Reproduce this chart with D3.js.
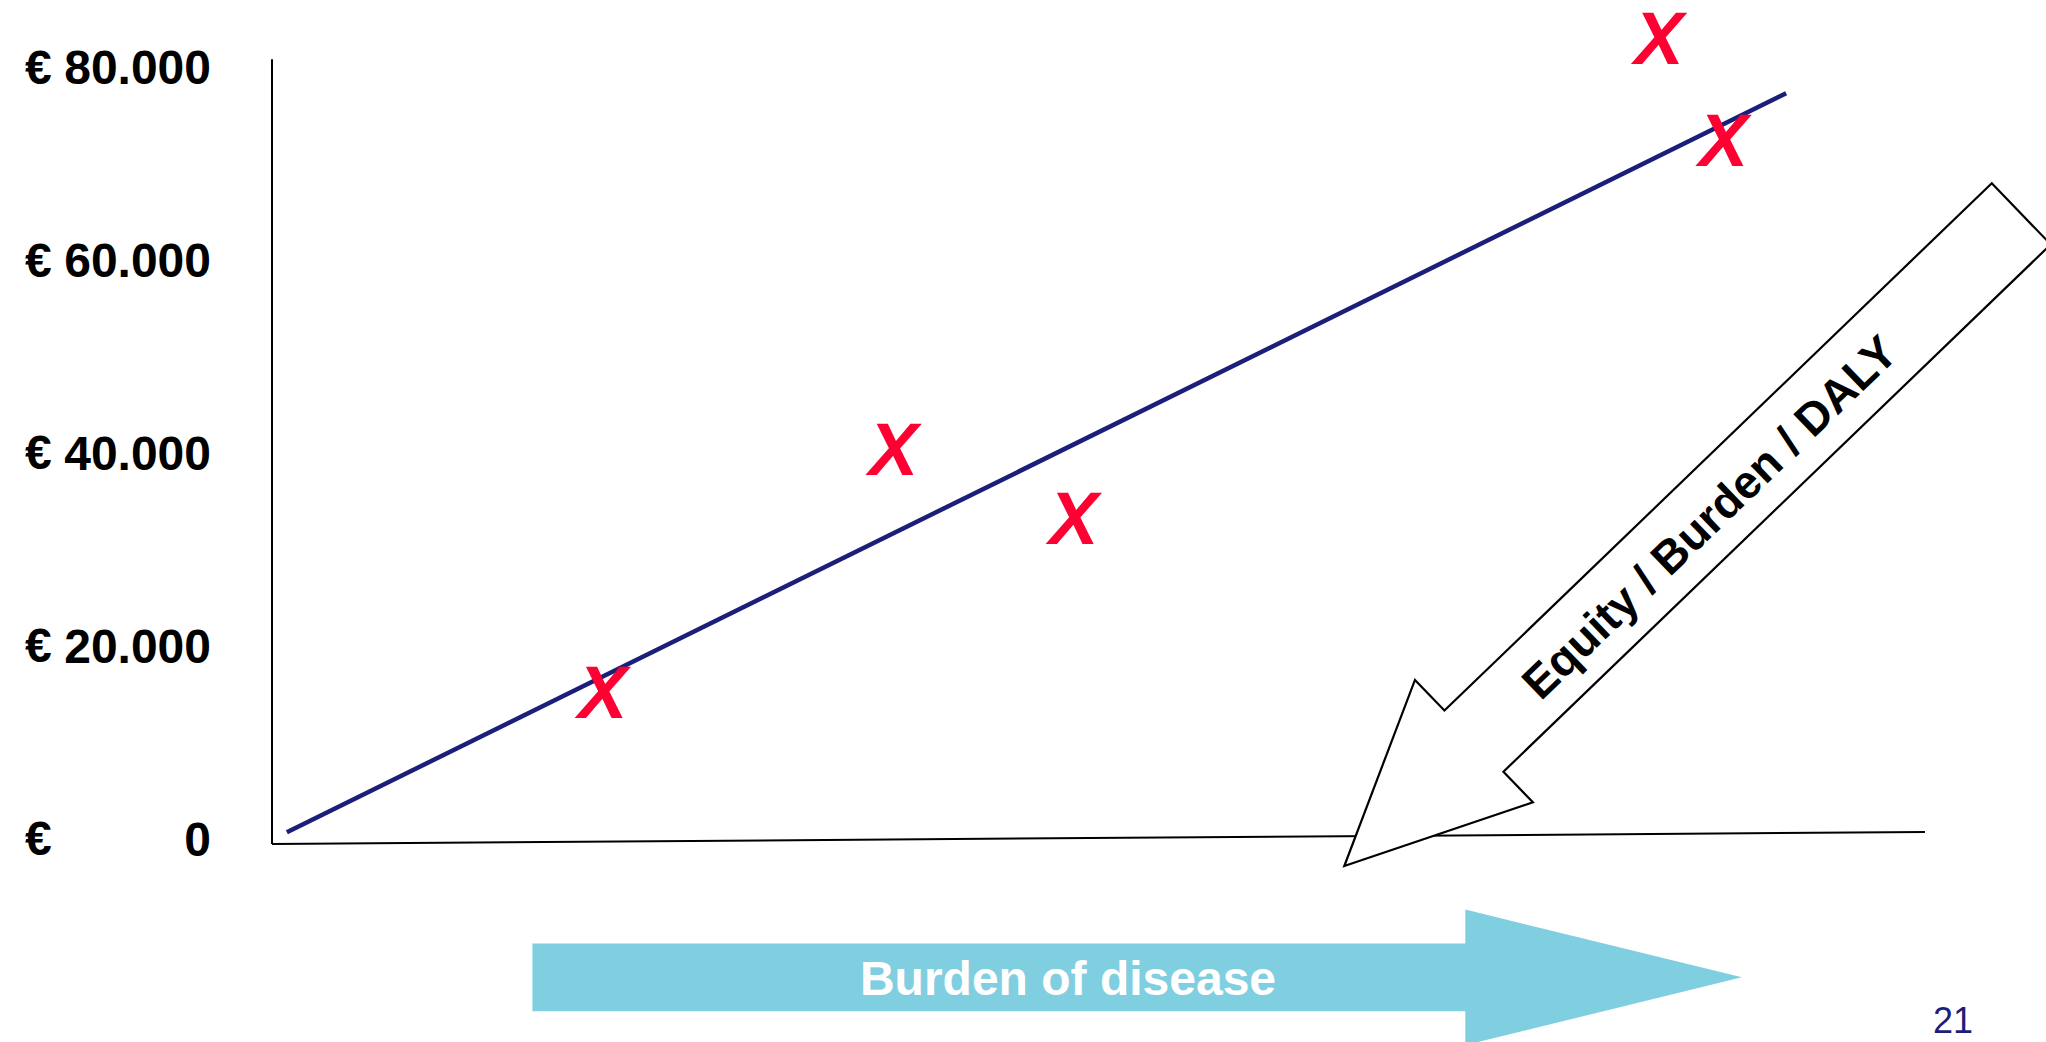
<!DOCTYPE html>
<html>
<head>
<meta charset="utf-8">
<script src="https://cdn.jsdelivr.net/npm/d3@7"></script>
<style>
  html, body { margin: 0; padding: 0; background: #ffffff; }
  svg { display: block; }
  text { font-family: "Liberation Sans", Arial, Helvetica, sans-serif; }
</style>
</head>
<body>
<svg id="chart" width="2046" height="1042"></svg>
<script>
// Interventions: burden of disease (arbitrary units) vs cost per QALY (€)
const burden = [20, 37.6, 48.5, 83.9, 87.8];
const cost = [15200, 40400, 33200, 83000, 72400];

// Threshold line: acceptable cost rising with burden of disease
const trendBurden = [0.9, 91.6];
const trendCost = [600, 77200];

// Y-axis tick values
const yTicks = [0, 20000, 40000, 60000, 80000];

// Annotation texts
const diagonalLabel = "Equity / Burden / DALY";
const burdenLabel = "Burden of disease";
const pageNumber = "21";

const W = 2046, H = 1042;
const svg = d3.select("#chart");
svg.append("rect").attr("width", W).attr("height", H).attr("fill", "#ffffff");

const x = d3.scaleLinear().domain([0, 100]).range([272, 1925]);
const y = d3.scaleLinear().domain([0, 80000]).range([838, 66.3]);

const nl = d3.formatLocale({ decimal: ",", thousands: ".", grouping: [3], currency: ["€ ", ""] });
const fmt = nl.format(",.0f");

// Tick labels: amounts right-aligned, euro sign at the left margin
const yAxis = d3.axisLeft(y).tickValues(yTicks).tickSize(0).tickPadding(0).tickFormat(fmt);
const gy = svg.append("g").attr("transform", "translate(211,0)").call(yAxis);
gy.select(".domain").remove();
gy.selectAll("text")
  .attr("font-family", "'Liberation Sans', Arial, sans-serif")
  .attr("font-size", 48)
  .attr("font-weight", "bold")
  .attr("fill", "#000")
  .attr("dy", "0.36em");

svg.append("g").selectAll("text.euro")
  .data(yTicks).join("text")
  .attr("class", "euro")
  .attr("x", 25)
  .attr("y", d => y(d))
  .attr("dy", "0.36em")
  .attr("font-size", 48)
  .attr("font-weight", "bold")
  .attr("fill", "#000")
  .text("€");

// Axis frame (the baseline drifts slightly upward to the right)
const x0 = x.range()[0], x1 = x.range()[1];
const yTopAxis = y(80000) - 7, yBottomAxis = y(0) + 6;
svg.append("line")
  .attr("x1", x0).attr("y1", yTopAxis).attr("x2", x0).attr("y2", yBottomAxis)
  .attr("stroke", "#000").attr("stroke-width", 2);
svg.append("line")
  .attr("x1", x0).attr("y1", yBottomAxis).attr("x2", x1).attr("y2", yBottomAxis - 12)
  .attr("stroke", "#000").attr("stroke-width", 2);

// Threshold line
const trend = trendBurden.map((b, i) => [b, trendCost[i]]);
svg.append("path")
  .datum(trend)
  .attr("d", d3.line().x(d => x(d[0])).y(d => y(d[1])))
  .attr("fill", "none")
  .attr("stroke", "#1b1f7a")
  .attr("stroke-width", 4.5);

// Intervention markers
const pts = burden.map((b, i) => ({ b, c: cost[i] }));
svg.append("g").selectAll("text.mark")
  .data(pts).join("text")
  .attr("class", "mark")
  .attr("x", d => x(d.b))
  .attr("y", d => y(d.c))
  .attr("dy", "0.36em")
  .attr("text-anchor", "middle")
  .attr("font-size", 74)
  .attr("font-weight", "bold")
  .attr("font-style", "italic")
  .attr("fill", "#ff0033")
  .text("X");

// Outlined arrow pointing down-left, built in its own frame (x along shaft from the tip)
const headLen = 180, headHalf = 85, shaftHalf = 42.5, arrowLen = 940;
const arrowPts = [
  [0, 0], [headLen, -headHalf], [headLen, -shaftHalf], [arrowLen, -shaftHalf],
  [arrowLen, shaftHalf], [headLen, shaftHalf], [headLen, headHalf]
];
const ga = svg.append("g").attr("transform", "translate(1344.3,866) rotate(-43.93)");
ga.append("path")
  .attr("d", d3.line()(arrowPts) + "Z")
  .attr("fill", "#ffffff")
  .attr("stroke", "#000")
  .attr("stroke-width", 2.2)
  .attr("stroke-linejoin", "miter");
ga.append("text")
  .attr("x", 505).attr("y", 2)
  .attr("text-anchor", "middle")
  .attr("dominant-baseline", "central")
  .attr("font-size", 46)
  .attr("font-weight", "bold")
  .attr("fill", "#000")
  .text(diagonalLabel);

// Burden of disease arrow
const bx0 = 532.4, bx1 = 1465.3, bTip = 1741.9, bcy = 977.3, bShaft = 33.9, bHead = 67.8;
const bArrow = [
  [bx0, bcy - bShaft], [bx1, bcy - bShaft], [bx1, bcy - bHead], [bTip, bcy],
  [bx1, bcy + bHead], [bx1, bcy + bShaft], [bx0, bcy + bShaft]
];
svg.append("path")
  .attr("d", d3.line()(bArrow) + "Z")
  .attr("fill", "#7fcfe1");
svg.append("text")
  .attr("x", 1068).attr("y", bcy)
  .attr("dy", "0.36em")
  .attr("text-anchor", "middle")
  .attr("font-size", 48)
  .attr("font-weight", "bold")
  .attr("fill", "#ffffff")
  .text(burdenLabel);

// Page number
svg.append("text")
  .attr("x", 1953).attr("y", 1033)
  .attr("text-anchor", "middle")
  .attr("font-size", 36)
  .attr("fill", "#1b1f7a")
  .text(pageNumber);
</script>
</body>
</html>
